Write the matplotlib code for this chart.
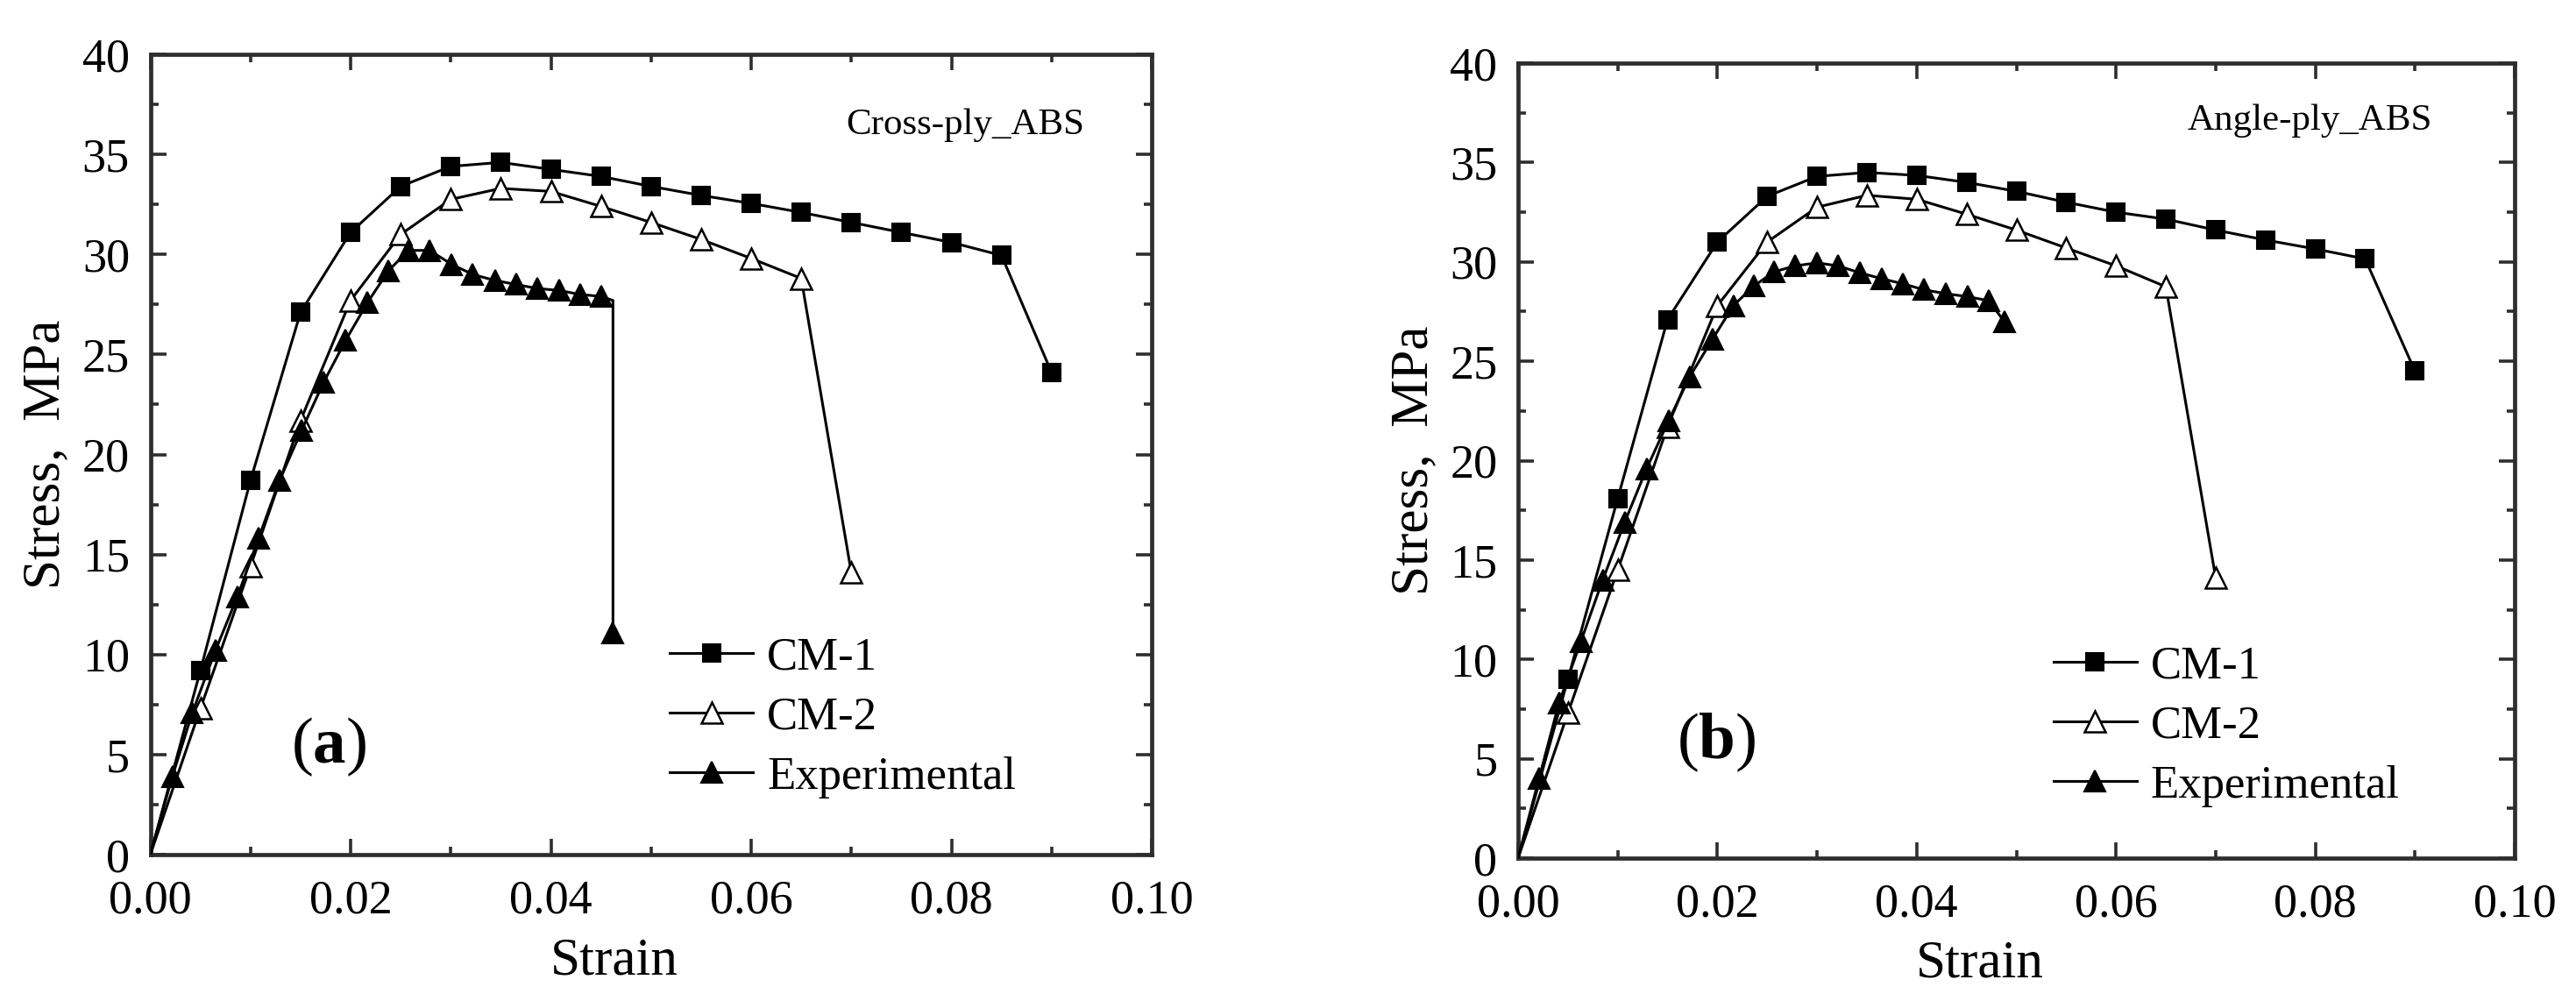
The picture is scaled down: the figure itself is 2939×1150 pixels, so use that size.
import matplotlib
matplotlib.use("Agg")
import matplotlib.pyplot as plt
import matplotlib.transforms as mtransforms
from matplotlib.ticker import MultipleLocator, FormatStrFormatter

plt.rcParams['font.family'] = ['Liberation Serif', 'DejaVu Serif']
plt.rcParams['mathtext.fontset'] = 'custom'
plt.rcParams['mathtext.rm'] = 'Liberation Serif'
plt.rcParams['mathtext.bf'] = 'Liberation Serif:bold'

# ---------------- data ----------------
cm1_x = [0, 0.005, 0.01, 0.015, 0.02, 0.025, 0.03, 0.035, 0.04, 0.045, 0.05,
         0.055, 0.06, 0.065, 0.07, 0.075, 0.08, 0.085, 0.09]
cm2_x = [0, 0.005, 0.01, 0.015, 0.02, 0.025, 0.03, 0.035, 0.04, 0.045, 0.05,
         0.055, 0.06, 0.065, 0.07]

cm1_a = [0, 9.2, 18.7, 27.1, 31.1, 33.4, 34.4, 34.6, 34.25, 33.9, 33.4,
         32.95, 32.55, 32.1, 31.6, 31.1, 30.6, 29.95, 24.1]
cm2_a = [0, 7.3, 14.4, 21.7, 27.7, 31.0, 32.75, 33.3, 33.15, 32.4, 31.6,
         30.75, 29.8, 28.8, 14.1]
exp_a_x = [0, 0.0022, 0.0042, 0.0065, 0.0087, 0.0108, 0.0129, 0.0151, 0.0173,
           0.0195, 0.0217, 0.0238, 0.0258, 0.0279, 0.0301, 0.0322, 0.0344,
           0.0365, 0.0386, 0.0408, 0.0429, 0.0450, 0.0462, 0.0462]
exp_a = [0, 3.9, 7.1, 10.2, 12.9, 15.8, 18.7, 21.2, 23.6, 25.7, 27.6, 29.2,
         30.2, 30.2, 29.5, 29.0, 28.7, 28.5, 28.3, 28.2, 28.0, 27.9, 27.7, 11.1]

cm1_b = [0, 9.0, 18.1, 27.1, 31.0, 33.3, 34.3, 34.5, 34.35, 34.0, 33.55,
         33.0, 32.5, 32.15, 31.6, 31.1, 30.65, 30.15, 24.5]
cm2_b = [0, 7.3, 14.5, 21.7, 27.8, 31.0, 32.75, 33.35, 33.15, 32.4, 31.6,
         30.7, 29.8, 28.75, 14.1]
exp_b_x = [0, 0.0021, 0.0041, 0.0063, 0.0085, 0.0107, 0.0129, 0.0151, 0.0172,
           0.0195, 0.0216, 0.0237, 0.0257, 0.0278, 0.0300, 0.0321, 0.0343,
           0.0365, 0.0386, 0.0407, 0.0429, 0.0451, 0.0472, 0.0488]
exp_b = [0, 4.0, 7.8, 10.9, 14.0, 16.9, 19.6, 22.0, 24.2, 26.1, 27.8, 28.8,
         29.5, 29.8, 29.95, 29.8, 29.45, 29.15, 28.9, 28.6, 28.4, 28.25,
         28.05, 27.0]

series_labels = ["CM-1", "CM-2", "Experimental"]
panel_titles = ["Cross-ply_ABS", "Angle-ply_ABS"]
panel_tags = ["a", "b"]
xlabel_text = "Strain"
ylabel_text = "Stress,  MPa"

# ---------------- figure ----------------
W, H = 2939, 1150
fig = plt.figure(figsize=(W / 100, H / 100), dpi=100)

axes_rects = [
    [171.5 / W, (H - 975) / H, 1142.5 / W, 913 / H],
    [1732 / W, (H - 979) / H, 1137 / W, 907 / H],
]

panels = [
    (cm1_a, cm2_a, exp_a_x, exp_a, [i for i in range(1, len(exp_a)) if i != 22]),
    (cm1_b, cm2_b, exp_b_x, exp_b, list(range(1, len(exp_b)))),
]

tag_pos = [(0.0178, 5.4), (0.0199, 5.8)]
title_pos = [(0.933, 0.912), (0.917, 0.927)]
legend_anchor = [(0.519, 0.272), (0.537, 0.267)]
spine_col = "#2e2e2e"

TICK_FS = 39
LABEL_FS = 44
LEG_FS = 38

for k, (c1, c2, ex, ey, exp_mark) in enumerate(panels):
    ax = fig.add_axes(axes_rects[k])
    ax.plot(cm1_x, c1, color="black", lw=2.2, marker="s", ms=15,
            mfc="black", mec="black", mew=1.5,
            markevery=list(range(1, len(c1))), label=series_labels[0], zorder=3)
    ax.plot(cm2_x, c2, color="black", lw=2.2, marker="^", ms=17,
            mfc="white", mec="black", mew=1.8,
            markevery=list(range(1, len(c2))), label=series_labels[1], zorder=4)
    ax.plot(ex, ey, color="black", lw=2.2, marker="^", ms=17,
            mfc="black", mec="black", mew=1.5,
            markevery=exp_mark, label=series_labels[2], zorder=5)

    ax.set_xlim(0, 0.10)
    ax.set_ylim(0, 40)
    ax.xaxis.set_major_locator(MultipleLocator(0.02))
    ax.xaxis.set_minor_locator(MultipleLocator(0.01))
    ax.yaxis.set_major_locator(MultipleLocator(5))
    ax.yaxis.set_minor_locator(MultipleLocator(2.5))
    ax.xaxis.set_major_formatter(FormatStrFormatter("%.2f"))
    ax.yaxis.set_major_formatter(FormatStrFormatter("%d"))

    ax.tick_params(which="both", direction="in", top=True, right=True,
                   color=spine_col, labelsize=TICK_FS, labelcolor="black")
    ax.tick_params(which="major", length=13, width=2.6)
    ax.tick_params(which="minor", length=6.5, width=2.6)
    ax.tick_params(axis="y", which="major", pad=17)
    ax.tick_params(axis="x", which="major", pad=20)
    for sp in ax.spines.values():
        sp.set_linewidth(3.4)
        sp.set_color(spine_col)

    # lift the "0" y tick label slightly so it clears the "0.00" label
    ticks = ax.yaxis.get_major_ticks()
    lab0 = ticks[0].label1
    lab0.set_transform(lab0.get_transform() +
                       mtransforms.ScaledTranslation(0, 6 / 72, fig.dpi_scale_trans))

    ax.set_xlabel(xlabel_text, fontsize=LABEL_FS)
    ax.xaxis.set_label_coords(0.463, -0.133)
    ax.xaxis.label.set_va("center")
    ax.set_ylabel(ylabel_text, fontsize=LABEL_FS)
    ax.yaxis.set_label_coords(-0.104, 0.5)
    ax.yaxis.label.set_va("center")

    ax.text(title_pos[k][0], title_pos[k][1], panel_titles[k],
            transform=ax.transAxes, ha="right", va="center", fontsize=31)
    ax.text(tag_pos[k][0], tag_pos[k][1],
            "(" + r"$\mathbf{" + panel_tags[k] + "}$" + ")",
            ha="center", va="center", fontsize=54)

    ax.legend(loc="upper left", bbox_to_anchor=legend_anchor[k],
              frameon=False, fontsize=LEG_FS, handlelength=1.8,
              handletextpad=0.3, labelspacing=0.38, borderpad=0,
              borderaxespad=0)

fig.savefig("out.png", dpi=100)
